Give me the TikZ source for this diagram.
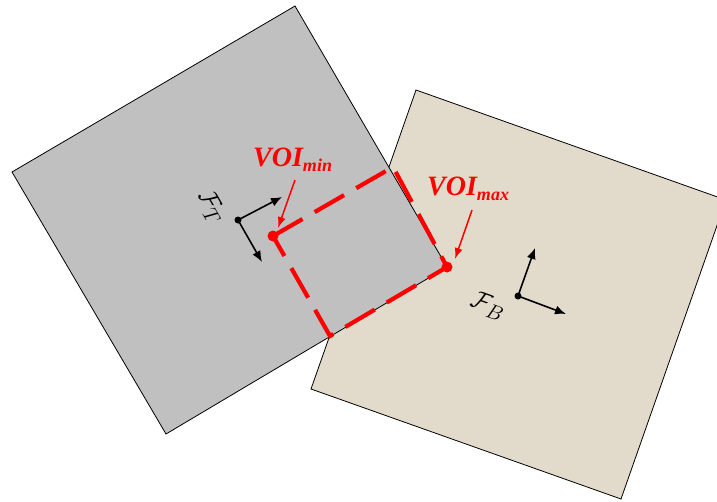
\documentclass[tikz,border=0pt]{standalone}
\usepackage{fontspec}
\setmainfont{Liberation Serif}
\usetikzlibrary{arrows.meta}
\definecolor{sqgray}{RGB}{192,192,192}
\definecolor{sqbeige}{RGB}{226,218,202}
\definecolor{voired}{RGB}{255,0,0}
\tikzset{
  plate/.style={draw=black, line width=0.8pt},
  axis/.style={draw=black, line width=1.6pt, -{Latex[length=11pt,width=9pt]}},
  voibox/.style={draw=voired, line width=4.2pt, dash pattern=on 34pt off 14pt},
  voidot/.style={fill=voired, draw=none},
  voiarrow/.style={draw=voired, line width=1.5pt, -{Latex[length=11pt,width=8pt]}},
  voilabel/.style={text=voired, font=\bfseries\itshape, inner sep=0pt},
  framelabel/.style={inner sep=0pt}
}
\begin{document}
\begin{tikzpicture}[x=1pt,y=-1pt]
\useasboundingbox (0,0) rectangle (717,501);
\clip (0,0) rectangle (717,501);
% beige plate (B)
\filldraw[plate, fill=sqbeige] (416,90) -- (726,200) -- (621,499) -- (311,389) -- cycle;
% gray plate (T)
\filldraw[plate, fill=sqgray] (295,6) -- (447,267) -- (166,434) -- (12,172) -- cycle;
% VOI rectangle
\coordinate (vmin) at (273,236);
\coordinate (vtr) at (393,167);
\coordinate (vmax) at (447,267);
\coordinate (vbl) at (330,336);
\draw[voibox] (vmin) -- (vtr) -- (vmax) -- (vbl) -- cycle;
\fill[voidot] (vmin) circle (5.5);
\fill[voidot] (vmax) circle (5.5);
% labels
\node[voilabel, anchor=base west] (lmin) at (253,166) {\fontsize{28}{28}\selectfont VOI\raisebox{-5pt}{\fontsize{18}{18}\selectfont min}};
\node[voilabel, anchor=base west] (lmax) at (427,195) {\fontsize{28}{28}\selectfont VOI\raisebox{-5pt}{\fontsize{18}{18}\selectfont max}};
\coordinate (amin) at (295,180);
\coordinate (amintip) at (278,228);
\coordinate (amax) at (472,210);
\coordinate (amaxtip) at (455,259);
\draw[voiarrow] (amin) -- (amintip);
\draw[voiarrow] (amax) -- (amaxtip);
% frame T
\coordinate (ot) at (238,220);
\coordinate (tx) at (282,197);
\coordinate (ty) at (262,262);
\draw[axis] (ot) -- (tx);
\draw[axis] (ot) -- (ty);
\fill (ot) circle (3.5);
\node[framelabel, rotate=-60] (lt) at (211,207) {\fontsize{30}{30}\selectfont $\mathcal{F}_{T}$};
% frame B
\coordinate (ob) at (518,296);
\coordinate (bx) at (566,314);
\coordinate (by) at (535,248);
\draw[axis] (ob) -- (bx);
\draw[axis] (ob) -- (by);
\fill (ob) circle (3.5);
\node[framelabel, rotate=-20] (lb) at (488,306) {\fontsize{30}{30}\selectfont $\mathcal{F}_{B}$};
\end{tikzpicture}
\end{document}
